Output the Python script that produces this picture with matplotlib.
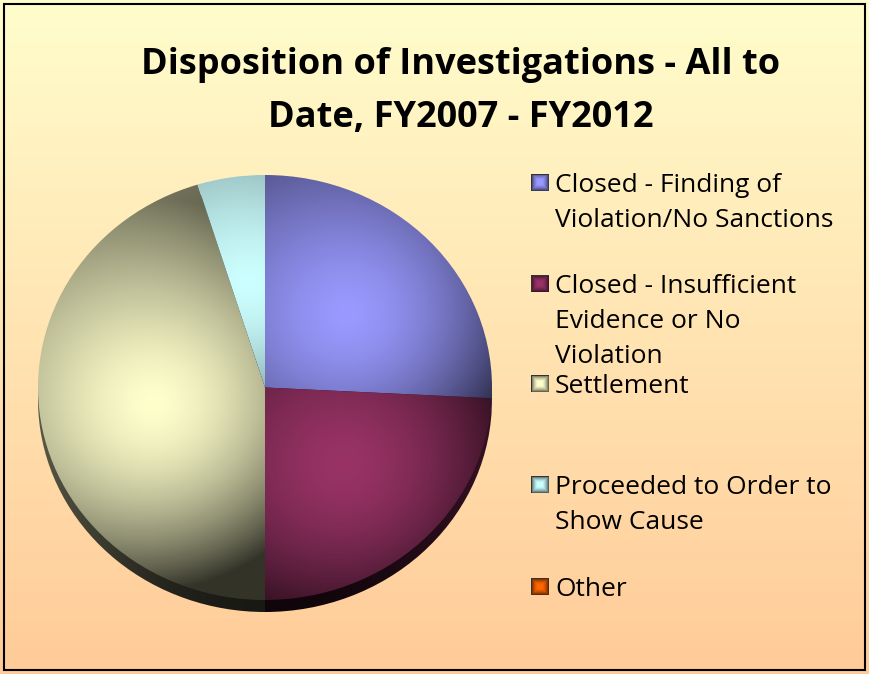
import numpy as np
import matplotlib.pyplot as plt
from matplotlib.patches import Wedge, Rectangle
from matplotlib.colors import to_rgb

# data (share of investigations, %)
labels = ['Closed - Finding of\nViolation/No Sanctions',
          'Closed - Insufficient\nEvidence or No\nViolation',
          'Settlement',
          'Proceeded to Order to\nShow Cause',
          'Other']
values = [25.8, 24.2, 45.2, 4.8, 0.0]
colors = ['#9999FF', '#993366', '#FFFFCC', '#CCFFFF', '#FF6600']
title = 'Disposition of Investigations - All to\nDate, FY2007 - FY2012'

W, H = 869, 674
fig = plt.figure(figsize=(W / 100, H / 100), dpi=100)

# background gradient + border, drawn in pixel coords
bg = fig.add_axes([0, 0, 1, 1])
bg.set_axis_off()
top_c = np.array(to_rgb('#FFFDCC'))
bot_c = np.array(to_rgb('#FFCB98'))
t = np.linspace(0, 1, 256)[:, None]
grad = (top_c * (1 - t) + bot_c * t)[:, None, :]
bg.imshow(grad, extent=[0, W, H, 0], aspect='auto')
bg.set_xlim(0, W)
bg.set_ylim(H, 0)
bg.add_patch(Rectangle((4, 4), W - 8, H - 8, fill=False, ec='black', lw=1.5))

for i, line in enumerate(title.split('\n')):
    bg.text(461, 74 + i * 53, line, ha='center', va='baseline',
            fontsize=26, fontweight='bold', family='Open Sans')

# pie: top face is an ellipse, x 38..492, y 175..600 (pixels)
cx_l, cx_r = 38, 492
y_top = 175
ry = 212.5
dz = 12 / ry
ax = fig.add_axes([cx_l / W, 1 - (y_top + 2.1 * ry) / H, (cx_r - cx_l) / W, 2.1 * ry / H])
wedges, _ = ax.pie(values, colors=colors, startangle=90, counterclock=False,
                   wedgeprops=dict(lw=0))
ax.set_aspect('auto')
ax.set_xlim(-1, 1)
ax.set_ylim(-1.1, 1.0)
ax.set_axis_off()

N = 500
u, v = np.meshgrid(np.linspace(-1, 1, N), np.linspace(1, -1.1, N))

for w, c in zip(wedges, colors):
    if w.theta2 - w.theta1 <= 0:
        w.set_visible(False)
        continue
    base = np.array(to_rgb(c))
    # side (depth) of the disc
    side = Wedge((0, -dz), 1, w.theta1, w.theta2, lw=0, fc='none', zorder=1)
    ax.add_patch(side)
    sshade = 0.10 + 0.25 * np.abs(u) ** 2
    simg = np.clip(base[None, None, :] * sshade[..., None], 0, 1)
    im = ax.imshow(simg, extent=[-1, 1, -1.1, 1], aspect='auto', zorder=1)
    im.set_clip_path(side)
    # top face, lighter round the middle of each slice
    mid = np.deg2rad((w.theta1 + w.theta2) / 2)
    px, py = 0.5 * np.cos(mid), 0.5 * np.sin(mid)
    d = np.hypot(u - px, v - py)
    m = 0.75 + 0.25 * (0.7 * u - 0.7 * v)
    shade = 1 - 0.8 * np.clip(d / 0.8, 0, 1.2) ** 1.6 * m
    shade = np.clip(shade, 0.2, 1)
    img = np.clip(base[None, None, :] * shade[..., None], 0, 1)
    w.set_facecolor('none')
    w.set_zorder(2)
    im = ax.imshow(img, extent=[-1, 1, -1.1, 1], aspect='auto', zorder=2)
    im.set_clip_path(w)

# legend
baselines = [192, 293, 393, 494, 596]
for lab, c, yb in zip(labels, colors, baselines):
    sq = fig.add_axes([531 / W, 1 - (yb - 1) / H, 18 / W, 17 / H])
    sq.set_axis_off()
    g = np.linspace(-1, 1, 18)
    gx, gy = np.meshgrid(g, g)
    r = np.maximum(np.abs(gx), np.abs(gy))
    sh = np.clip(1.05 - 0.65 * r ** 2, 0, 1)
    sq.imshow(np.clip(np.array(to_rgb(c)) * sh[..., None], 0, 1), aspect='auto',
              extent=[0, 1, 0, 1])
    sq.add_patch(Rectangle((0, 0), 1, 1, fill=False, ec='#333333', lw=0.8))
    for k, line in enumerate(lab.split('\n')):
        bg.text(555, yb + 35 * k, line, ha='left', va='baseline',
                fontsize=19, family='Open Sans')

fig.savefig('out.png', dpi=100)
